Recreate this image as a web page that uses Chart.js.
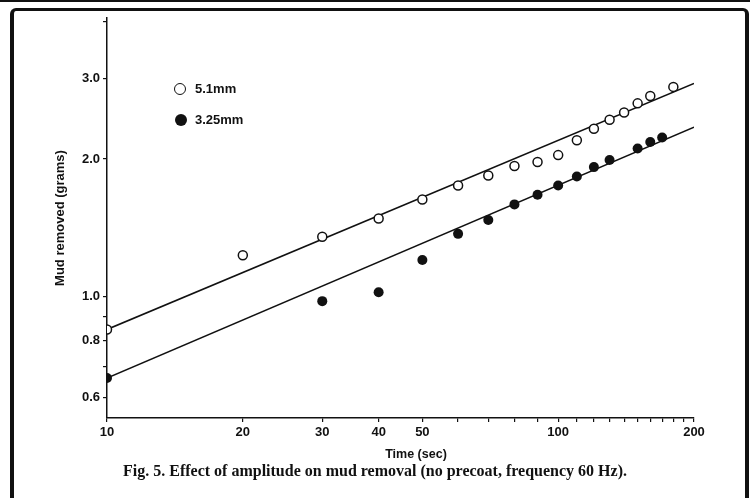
<!DOCTYPE html>
<html>
<head>
<meta charset="utf-8">
<title>Fig. 5 - mud removal</title>
<script src="https://cdn.jsdelivr.net/npm/chart.js@4.4.1/dist/chart.umd.min.js"></script>
<style>
  html, body { margin: 0; padding: 0; background: #fff; }
  #wrap { position: relative; width: 750px; height: 498px; overflow: hidden; }
  #chart { position: absolute; left: 0; top: 0; }
  /* page edge band + rounded frame round the figure */
  #band { position: absolute; left: 0; top: 0; width: 750px; height: 2px; background: #111; }
  #frame {
    position: absolute; left: 10px; top: 8px; width: 731px; height: 490px;
    border: 4px solid #111; border-top-width: 3px; border-bottom: none;
    border-radius: 6px 6px 0 0; pointer-events: none;
  }
  .leg { position: absolute; font: bold 13px "Liberation Sans", Arial, sans-serif; color: #111; line-height: 14px; }
  .dot { position: absolute; width: 12px; height: 12px; border-radius: 50%; box-sizing: border-box; }
  #xtitle {
    position: absolute; left: 316px; width: 200px; top: 446px; text-align: center;
    font: bold 12.5px "Liberation Sans", Arial, sans-serif; color: #111; line-height: 16px;
  }
  #caption {
    position: absolute; left: 0; width: 750px; top: 461px; text-align: center;
    font: bold 16px "Liberation Serif", "Times New Roman", serif; color: #111; line-height: 20px;
  }
</style>
</head>
<body>
<div id="wrap">
  <canvas id="chart" width="750" height="498"></canvas>
  <div id="band"></div>
  <div id="frame"></div>
  <div class="dot" style="left:174px; top:83px; border:1.5px solid #111; background:#fff;"></div>
  <div class="leg" style="left:195px; top:82px;">5.1mm</div>
  <div class="dot" style="left:175px; top:114px; background:#111;"></div>
  <div class="leg" style="left:195px; top:113px;">3.25mm</div>
  <div id="xtitle">Time (sec)</div>
  <div id="caption">Fig. 5. Effect of amplitude on mud removal (no precoat, frequency 60 Hz).</div>
</div>
<script>
// values (time in sec, mud removed in grams)
const timeOpen = [10, 20, 30, 40, 50, 60, 70, 80, 90, 100, 110, 120, 130, 140, 150, 160, 180];
const massOpen = [0.845, 1.23, 1.35, 1.48, 1.63, 1.75, 1.84, 1.93, 1.97, 2.04, 2.20, 2.33, 2.44, 2.53, 2.65, 2.75, 2.88];

const timeFilled = [10, 30, 40, 50, 60, 70, 80, 90, 100, 110, 120, 130, 150, 160, 170];
const massFilled = [0.661, 0.975, 1.02, 1.20, 1.37, 1.47, 1.59, 1.67, 1.75, 1.83, 1.92, 1.99, 2.11, 2.18, 2.23];

// fitted straight lines (log-log), end points
const fitTime = [10, 200];
const fitOpen = [0.845, 2.93];
const fitFilled = [0.661, 2.35];

// ticks
const xTicks = [10, 20, 30, 40, 50, 60, 70, 80, 90, 100, 110, 120, 130, 140, 150, 160, 170, 180, 190, 200];
const xLabels = [10, 20, 30, 40, 50, 100, 200];
const yTicks = [0.6, 0.7, 0.8, 0.9, 1.0, 2.0, 3.0, 4.0];
const yLabels = [0.6, 0.8, 1.0, 2.0, 3.0];

const ink = "#111";
const pts = (xs, ys) => xs.map((x, i) => ({ x, y: ys[i] }));
const sans = "'Liberation Sans', Arial, sans-serif";

const axisBase = {
  type: "logarithmic",
  grid: { display: true, drawOnChartArea: false, drawTicks: true, tickLength: 4, color: ink, lineWidth: 1.2 },
  border: { display: true, color: ink, width: 1.5 }
};

new Chart(document.getElementById("chart").getContext("2d"), {
  type: "scatter",
  data: {
    datasets: [
      {
        label: "5.1mm",
        data: pts(timeOpen, massOpen),
        pointRadius: 4.5,
        pointBorderWidth: 1.5,
        pointBorderColor: ink,
        pointBackgroundColor: "#fff"
      },
      {
        label: "3.25mm",
        data: pts(timeFilled, massFilled),
        pointRadius: 5,
        pointBorderWidth: 0,
        pointBorderColor: ink,
        pointBackgroundColor: ink
      },
      {
        label: "fit 5.1mm",
        data: pts(fitTime, fitOpen),
        showLine: true,
        pointRadius: 0,
        borderWidth: 1.5,
        borderColor: ink
      },
      {
        label: "fit 3.25mm",
        data: pts(fitTime, fitFilled),
        showLine: true,
        pointRadius: 0,
        borderWidth: 1.5,
        borderColor: ink
      }
    ]
  },
  options: {
    responsive: false,
    animation: false,
    layout: { padding: { left: 15, right: 56, top: 18, bottom: 36.6 } },
    plugins: {
      legend: { display: false },
      tooltip: { enabled: false }
    },
    scales: {
      x: {
        ...axisBase,
        min: 10,
        max: 200,
        afterBuildTicks: (s) => { s.ticks = xTicks.map((v) => ({ value: v })); },
        afterFit: (s) => { s.height = 43.4; },
        ticks: {
          autoSkip: false,
          maxRotation: 0,
          padding: 3,
          color: ink,
          font: { family: sans, size: 13, weight: "bold" },
          callback: (v) => (xLabels.includes(v) ? String(v) : "")
        }
      },
      y: {
        ...axisBase,
        min: 0.54,
        max: 4.08,
        afterBuildTicks: (s) => { s.ticks = yTicks.map((v) => ({ value: v })); },
        afterFit: (s) => { s.width = 92; },
        ticks: {
          autoSkip: false,
          padding: 3,
          color: ink,
          font: { family: sans, size: 13, weight: "bold" },
          callback: (v) => (yLabels.includes(v) ? v.toFixed(1) : "")
        },
        title: {
          display: true,
          text: "Mud removed (grams)",
          color: ink,
          padding: { top: 37.2, bottom: 0 },
          font: { family: sans, size: 13, weight: "bold" }
        }
      }
    }
  }
});
</script>
</body>
</html>
